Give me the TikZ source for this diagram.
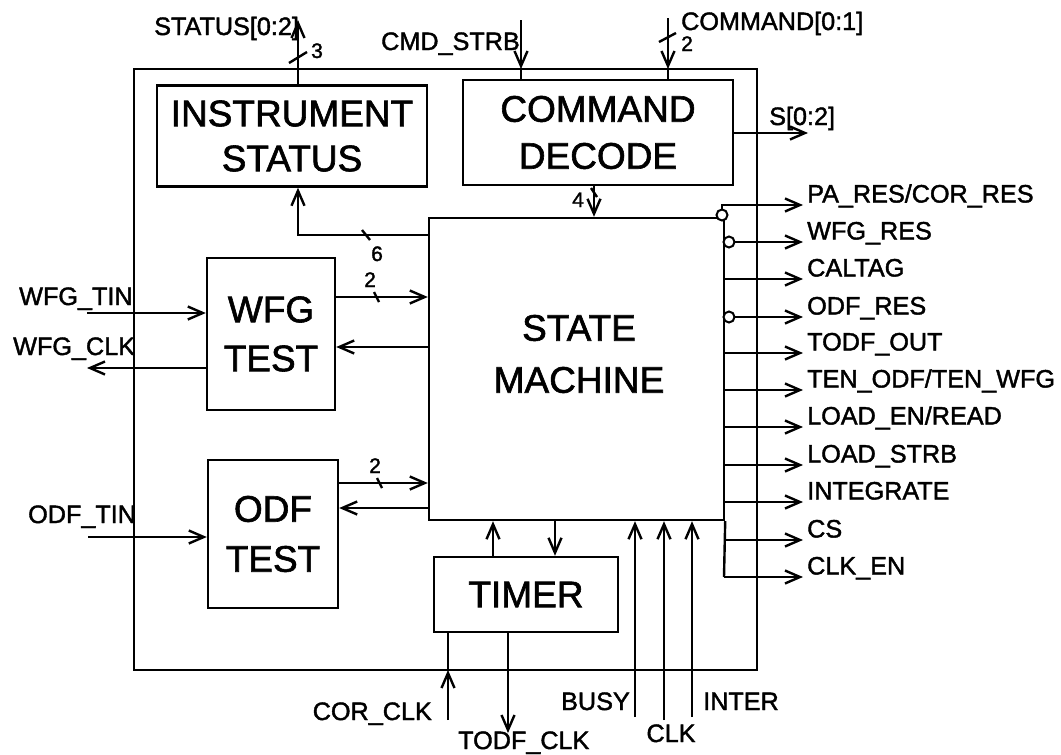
\documentclass[tikz,border=0pt]{standalone}
\usepackage{fontspec}
\setmainfont{Liberation Sans}[BoldFont={Liberation Sans},BoldFeatures={FakeBold=1.6}]
\usetikzlibrary{arrows.meta}
\begin{document}
\begin{tikzpicture}[x=1pt,y=-1pt,line width=2.4pt,
  arr/.style={-{Straight Barb[length=15pt,width=13pt]}},
  box/.style={draw,line width=2.4pt,inner sep=0pt,align=center},
  bigtxt/.style={font=\bfseries\fontsize{37}{47}\selectfont},
  lab/.style={font=\bfseries\fontsize{25.2}{29}\selectfont,inner sep=0pt},
  num/.style={font=\bfseries\fontsize{21}{25}\selectfont,inner sep=0pt},
  bubble/.style={draw,fill=white,circle,inner sep=0pt,minimum size=11pt,line width=2pt}]
\useasboundingbox (0,0) rectangle (1061,755);
% outer frame
\draw (134,69) rectangle (757,670);
\coordinate (otop) at (0,69);
\coordinate (obot) at (0,670);
% blocks
\node[box,minimum width=270pt,minimum height=101pt,font=\bfseries\fontsize{37}{45}\selectfont] (inst) at (292,136) {INSTRUMENT\\STATUS};
\node[box,bigtxt,minimum width=270pt,minimum height=105pt] (cmd) at (598,132.5) {COMMAND\\DECODE};
\node[box,minimum width=128pt,minimum height=152pt,font=\bfseries\fontsize{37}{49}\selectfont] (wfg) at (271,334) {WFG\\TEST};
\node[box,minimum width=130pt,minimum height=148pt,font=\bfseries\fontsize{37}{50}\selectfont] (odf) at (273,534) {ODF\\TEST};
\node[box,bigtxt,minimum width=184pt,minimum height=75pt] (timer) at (526,594.5) {TIMER};
\node[box,minimum width=295pt,minimum height=302pt] (sm) at (576.5,369) {};
\node[inner sep=0pt,align=center,font=\bfseries\fontsize{37}{52}\selectfont] (smtxt) at (579,354) {STATE\\MACHINE};
% top signals
\coordinate (statusEnd) at (298,20);
\draw[arr] (inst.north -| statusEnd) -- (statusEnd);
\draw (289,63) -- (307,52);
\node[lab,anchor=base west] (lstatus) at (153,35) {STATUS[0:2]};
\node[num,anchor=base west] (l3) at (310,58) {3};
\coordinate (cmdstrbTop) at (521,20);
\draw[arr] (cmdstrbTop) -- (cmdstrbTop |- otop);
\draw (cmdstrbTop |- otop) -- (cmdstrbTop |- cmd.north);
\node[lab,anchor=base west] (lcmdstrb) at (380,50) {CMD\_STRB};
\coordinate (commandTop) at (668,18);
\draw[arr] (commandTop) -- (commandTop |- otop);
\draw (commandTop |- otop) -- (commandTop |- cmd.north);
\draw (659,42) -- (676,33);
\node[lab,anchor=base west] (lcommand) at (680,30) {COMMAND[0:1]};
\node[num,anchor=base west] (l2c) at (680,51) {2};
\coordinate (sEnd) at (808,133);
\draw[arr] (cmd.east |- sEnd) -- (sEnd);
\node[lab,anchor=base west] (ls) at (768,125) {S[0:2]};
% command decode -> state machine
\coordinate (c4) at (594,0);
\draw[arr] (c4 |- cmd.south) -- (c4 |- sm.north);
\draw (591,188) -- (597,197);
\node[num,anchor=base west] (l4) at (571,207) {4};
% state machine -> instrument status
\draw[arr] (sm.west |- 0,235) -| (inst.south -| statusEnd);
\draw (362,230) -- (370,240);
\node[num,anchor=base west] (l6) at (370,261) {6};
% WFG test
\draw[arr] (wfg.east |- 0,297) -- (sm.west |- 0,297);
\draw (374,292) -- (379,302);
\node[num,anchor=base west] (l2w) at (363,287) {2};
\draw[arr] (sm.west |- 0,347) -- (wfg.east |- 0,347);
\coordinate (wfgtin) at (87,313);
\draw[arr] (wfgtin) -- (wfg.west |- wfgtin);
\node[lab,anchor=base west] (lwfgtin) at (18,305) {WFG\_TIN};
\coordinate (wfgclk) at (87,368);
\draw[arr] (wfg.west |- wfgclk) -- (wfgclk);
\node[lab,anchor=base west] (lwfgclk) at (12,355) {WFG\_CLK};
% ODF test
\draw[arr] (odf.east |- 0,483) -- (sm.west |- 0,483);
\draw (377,478) -- (382,488);
\node[num,anchor=base west] (l2o) at (368,473) {2};
\draw[arr] (sm.west |- 0,508) -- (odf.east |- 0,508);
\coordinate (odftin) at (88,537);
\draw[arr] (odftin) -- (odf.west |- odftin);
\node[lab,anchor=base west] (lodftin) at (27,523) {ODF\_TIN};
% timer
\draw[arr] (timer.north -| 493,0) -- (sm.south -| 493,0);
\draw[arr] (sm.south -| 555,0) -- (timer.north -| 555,0);
\coordinate (corclk) at (448,720);
\draw[arr] (corclk) -- (corclk |- obot);
\draw (corclk |- obot) -- (timer.south -| corclk);
\node[lab,anchor=base east] (lcorclk) at (433,720) {COR\_CLK};
\coordinate (todfclk) at (508,733);
\draw[arr] (timer.south -| todfclk) -- (todfclk);
\node[lab,anchor=base west] (ltodfclk) at (457,749) {TODF\_CLK};
% bottom inputs
\coordinate (busy) at (635,717);
\draw[arr] (busy) -- (sm.south -| busy);
\node[lab,anchor=base east] (lbusy) at (631,710) {BUSY};
\coordinate (clk) at (664,720);
\draw[arr] (clk) -- (sm.south -| clk);
\node[lab,anchor=base] (lclk) at (671,742) {CLK};
\coordinate (inter) at (692,717);
\draw[arr] (inter) -- (sm.south -| inter);
\node[lab,anchor=base west] (linter) at (702,710) {INTER};
% output bus
\draw (sm.south east) -- (724,577);
\coordinate (pa) at (803,205);
\draw[arr] (722,212) -- (722,205) -- (pa);
\node[bubble] (bpa) at (722,215) {};
\node[lab,anchor=base west] at (806,202.5) {PA\_RES/COR\_RES};
\foreach \yy/\txt/\inv in {242/{WFG\_RES}/1, 279/{CALTAG}/0, 317/{ODF\_RES}/1, 353/{TODF\_OUT}/0, 390/{TEN\_ODF/TEN\_WFG}/0, 427/{LOAD\_EN/READ}/0, 465/{LOAD\_STRB}/0, 502/{INTEGRATE}/0, 540/{CS}/0, 577/{CLK\_EN}/0}{
  \draw[arr] (724,\yy) -- (803,\yy);
  \ifnum\inv=1 \node[bubble] at (729,\yy) {};\fi
  \node[lab,anchor=base west] at (806,\yy-2.5) {\txt};
}
\end{tikzpicture}
\end{document}
